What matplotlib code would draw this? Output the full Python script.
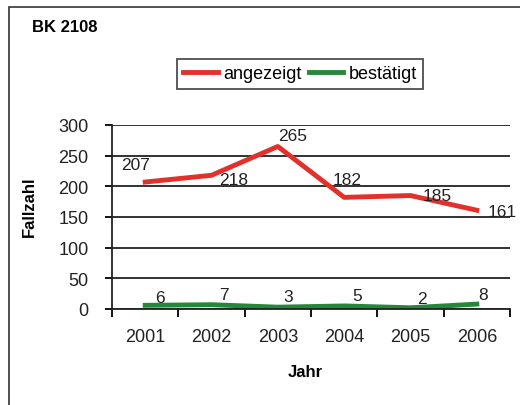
import matplotlib
matplotlib.use("Agg")
import matplotlib.pyplot as plt
from matplotlib.patches import Rectangle
import numpy as np

plt.rcParams["font.family"] = ["Liberation Sans", "DejaVu Sans"]

years = ["2001", "2002", "2003", "2004", "2005", "2006"]
angezeigt = [207, 218, 265, 182, 185, 161]
bestaetigt = [6, 7, 3, 5, 2, 8]

# label offsets in pixels (dx, dy) relative to each point
off_red = [(-10, 18), (22, -4), (15, 11), (3, 18), (27, 0), (25, -1)]
off_green = [(15, 8), (12, 10), (10, 11), (13, 10), (11, 9), (6, 10)]

RED = "#e3302a"
GREEN = "#24883a"
FS = 13

fig = plt.figure(figsize=(5.2, 4.06), dpi=100)
fig.add_artist(Rectangle((9 / 520, -0.1), 1.2, 1 - 8 / 406 + 0.1,
                         transform=fig.transFigure, fill=False,
                         edgecolor="#333333", linewidth=1.2))

ax = fig.add_axes([112 / 520, 1 - 310 / 406, 398 / 520, 184 / 406])
x = np.arange(len(years))
l1, = ax.plot(x, angezeigt, color=RED, linewidth=3.5, label="angezeigt")
l2, = ax.plot(x, bestaetigt, color=GREEN, linewidth=3.5, label="bestätigt")

for xi, v, (dx, dy) in zip(x, angezeigt, off_red):
    ax.annotate(str(v), (xi, v), xytext=(dx, dy), textcoords="offset pixels",
                ha="center", va="center", fontsize=FS - 0.5, color="#222222")
for xi, v, (dx, dy) in zip(x, bestaetigt, off_green):
    ax.annotate(str(v), (xi, v), xytext=(dx, dy), textcoords="offset pixels",
                ha="center", va="center", fontsize=FS - 0.5, color="#222222")

ax.set_xlim(-0.5, len(years) - 0.5)
ax.set_ylim(0, 300)
ax.set_yticks(range(0, 301, 50))
ax.yaxis.grid(True, color="#222222", linewidth=1.3)
ax.set_axisbelow(True)

ax.set_xticks(np.arange(-0.5, len(years), 1))
ax.set_xticklabels([])
ax.set_xticks(x, minor=True)
ax.set_xticklabels(years, minor=True)
ax.tick_params(axis="x", which="major", length=6, width=1.3, direction="out")
ax.tick_params(axis="x", which="minor", length=0, pad=14, labelsize=FS, labelcolor="#222222")
ax.tick_params(axis="y", length=5, width=1.3, pad=12, labelsize=FS, labelcolor="#222222")

for s in ["top", "right"]:
    ax.spines[s].set_visible(False)
for s in ["left", "bottom"]:
    ax.spines[s].set_linewidth(1.3)
    ax.spines[s].set_color("#222222")

ax.set_ylabel("Fallzahl", fontsize=FS - 1, fontweight="bold")
ax.yaxis.set_label_coords(-0.19, 0.56)
ax.set_xlabel("Jahr", fontsize=FS - 1, fontweight="bold")
ax.xaxis.set_label_coords(0.485, -0.30)

fig.text(32 / 520, 1 - 27 / 406, "BK 2108", fontsize=FS - 1, fontweight="bold",
         ha="left", va="center")

leg = fig.legend(handles=[l1, l2], loc="center", bbox_to_anchor=(300 / 520, 1 - 75 / 406),
                 ncol=2, fontsize=FS, frameon=True, fancybox=False,
                 handlelength=1.9, handletextpad=0.3, columnspacing=0.4,
                 borderpad=0.35, borderaxespad=0)
leg.get_frame().set_edgecolor("#222222")
leg.get_frame().set_linewidth(1.3)

fig.savefig("out.png", dpi=100)
